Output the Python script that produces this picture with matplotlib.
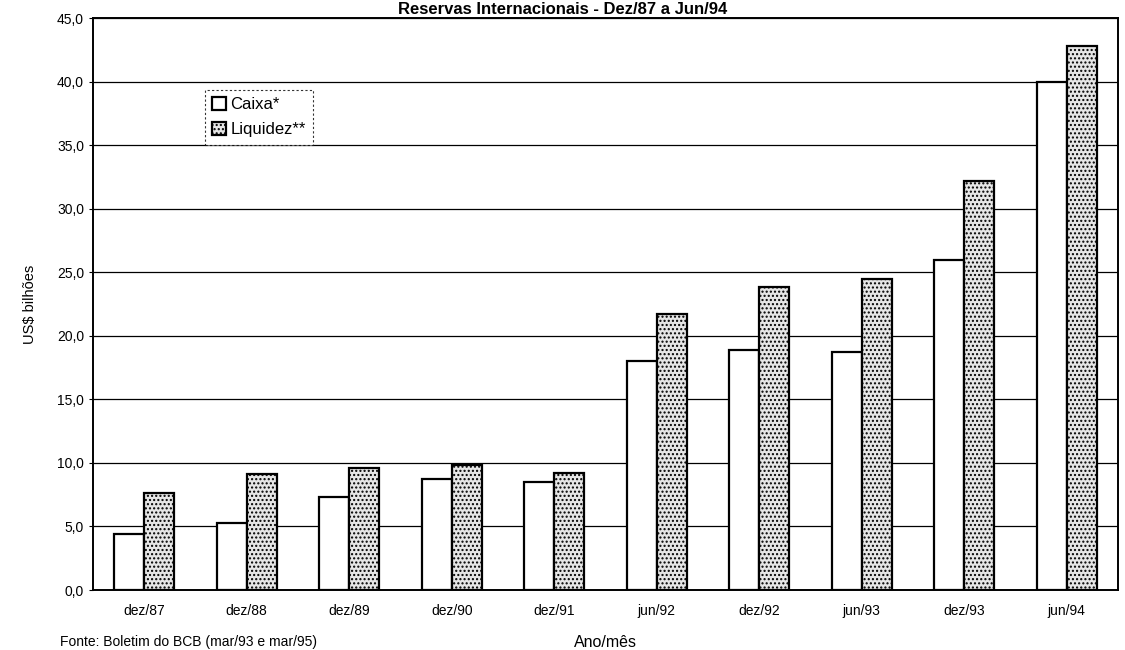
import numpy as np
import matplotlib.pyplot as plt

plt.rcParams['font.family'] = ['Liberation Sans', 'DejaVu Sans']

# dados (US$ bilhoes)
periodos = ['dez/87', 'dez/88', 'dez/89', 'dez/90', 'dez/91',
            'jun/92', 'dez/92', 'jun/93', 'dez/93', 'jun/94']
caixa = [4.4, 5.3, 7.3, 8.7, 8.5, 18.0, 18.9, 18.7, 26.0, 40.0]
liquidez = [7.6, 9.1, 9.6, 9.8, 9.2, 21.7, 23.8, 24.5, 32.2, 42.8]
yticks = [0, 5, 10, 15, 20, 25, 30, 35, 40, 45]

fig = plt.figure(figsize=(11.25, 6.5), dpi=100)
ax = fig.add_axes([93/1125, 1 - 590/650, (1118-93)/1125, (590-18)/650])

x = np.arange(len(periodos))
w = 0.295
ax.bar(x - w/2, caixa, w, color='white', edgecolor='black', linewidth=1.6,
       label='Caixa*', zorder=3)
plt.rcParams['hatch.color'] = '#555555'
ax.bar(x + w/2, liquidez, w, color='#e6e6e6', edgecolor='black', linewidth=1.6,
       hatch='....', label='Liquidez**', zorder=3)

ax.set_xlim(-0.5, len(periodos) - 0.5)
ax.set_ylim(0, 45)
ax.set_yticks(yticks)
ax.set_yticklabels([('%.1f' % v).replace('.', ',') for v in yticks])
ax.set_xticks(x)
ax.set_xticklabels(periodos)
ax.tick_params(axis='both', labelsize=10, length=3, color='black')
ax.tick_params(axis='x', length=0, pad=10)
ax.yaxis.grid(True, color='black', linewidth=0.9, zorder=0)
for s in ax.spines.values():
    s.set_linewidth(1.4)

ax.set_ylabel('US$ bilhões', fontsize=10.5, labelpad=14)
ax.set_xlabel('Ano/mês', fontsize=11.5, labelpad=12)

leg = ax.legend(loc='upper left', bbox_to_anchor=(0.109, 0.875), fontsize=12,
                frameon=True, fancybox=False, handlelength=0.8, handleheight=0.8,
                handletextpad=0.3, borderpad=0.45, labelspacing=0.6,
                borderaxespad=0)
leg.get_frame().set_edgecolor('black')
leg.get_frame().set_linestyle((0, (2, 2)))
leg.get_frame().set_linewidth(0.8)

fig.text(0.5, 1 - 9/650, 'Reservas Internacionais - Dez/87 a Jun/94',
         ha='center', va='center', fontsize=12, fontweight='bold')
fig.text(60/1125, 1/650, 'Fonte: Boletim do BCB (mar/93 e mar/95)',
         ha='left', va='bottom', fontsize=10)

fig.savefig('out.png', dpi=100)
